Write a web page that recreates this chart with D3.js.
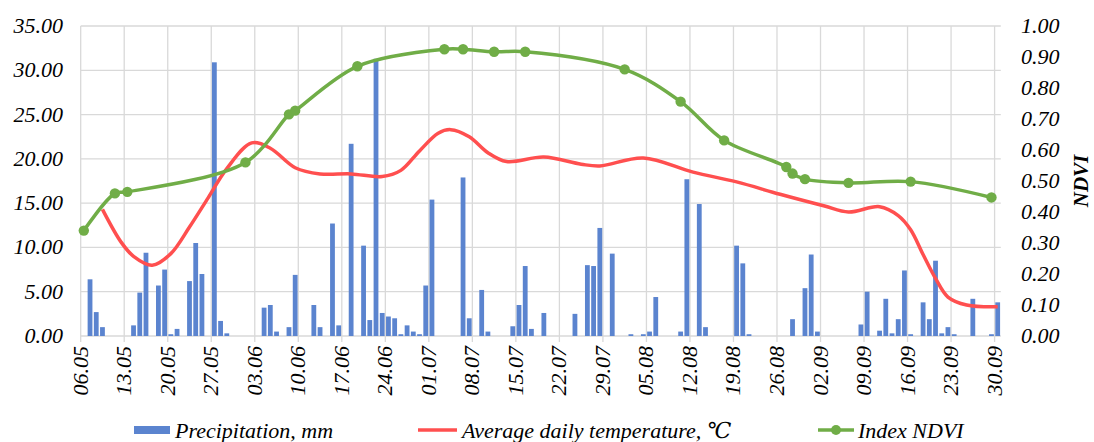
<!DOCTYPE html>
<html>
<head>
<meta charset="utf-8">
<script src="https://cdn.jsdelivr.net/npm/d3@7"></script>
<style>
  body { margin: 0; background: #fff; }
  text { font-family: "Liberation Serif", "DejaVu Serif", serif; font-style: italic; fill: #000; }
</style>
</head>
<body>
<div id="chart"></div>
<script>
var svgWidth = 1094;
var svgHeight = 442;

// x axis ticks (every 7 days)
var tickLabels = ["06.05","13.05","20.05","27.05","03.06","10.06","17.06","24.06","01.07","08.07","15.07",
  "22.07","29.07","05.08","12.08","19.08","26.08","02.09","09.09","16.09","23.09","30.09"];

// precipitation, mm
var precipDates = ["07.05","08.05","09.05","14.05","15.05","16.05","18.05","19.05","20.05","21.05","23.05","24.05",
  "25.05","27.05","28.05","29.05","04.06","05.06","06.06","08.06","09.06","12.06","13.06","15.06","16.06","18.06",
  "20.06","21.06","22.06","23.06","24.06","25.06","26.06","27.06","28.06","29.06","30.06","01.07","06.07","07.07",
  "09.07","10.07","14.07","15.07","16.07","17.07","19.07","24.07","26.07","27.07","28.07","30.07","02.08","04.08",
  "05.08","06.08","10.08","11.08","13.08","14.08","19.08","20.08","21.08","28.08","30.08","31.08","01.09","08.09",
  "09.09","11.09","12.09","13.09","14.09","15.09","16.09","18.09","19.09","20.09","21.09","22.09","23.09","26.09",
  "29.09","30.09"];
var precipValues = [6.4,2.7,1.0,1.2,4.9,9.4,5.7,7.5,0.2,0.8,6.2,10.5,
  7.0,30.9,1.7,0.3,3.2,3.5,0.5,1.0,6.9,3.5,1.0,12.7,1.2,21.7,
  10.2,1.8,31.3,2.6,2.2,2.0,0.2,1.2,0.5,0.2,5.7,15.4,17.9,2.0,
  5.2,0.5,1.1,3.5,7.9,0.8,2.6,2.5,8.0,7.9,12.2,9.3,0.2,0.2,
  0.5,4.4,0.5,17.7,14.9,1.0,10.2,8.2,0.2,1.9,5.4,9.2,0.5,1.3,
  5.0,0.6,4.2,0.3,1.9,7.4,0.2,3.8,1.9,8.5,0.3,1.0,0.2,4.2,
  0.2,3.8];

// average daily temperature, °C
var tempDates = ["09.05","12.05","14.05","17.05","20.05","23.05","26.05","29.05","02.06","05.06","09.06","13.06",
  "18.06","23.06","26.06","29.06","02.07","04.07","07.07","10.07","13.07","19.07","25.07","28.07","04.08","12.08",
  "19.08","26.08","02.09","06.09","11.09","14.09","16.09","18.09","20.09","22.09","25.09","30.09"];
var tempValues = [14.3,10.6,9.0,8.0,9.3,12.3,15.6,18.9,21.8,21.2,19.0,18.3,
  18.3,18.0,18.7,20.9,22.9,23.3,22.5,20.7,19.7,20.2,19.4,19.2,20.1,18.5,
  17.4,16.0,14.7,14.0,14.6,13.6,12.0,9.2,6.5,4.4,3.5,3.3];

// NDVI index
var ndviDates = ["06.05","11.05","13.05","01.06","08.06","09.06","19.06","03.07","06.07","11.07","16.07","01.08",
  "10.08","17.08","27.08","28.08","30.08","06.09","16.09","29.09"];
var ndviValues = [0.34,0.46,0.465,0.56,0.715,0.727,0.87,0.925,0.925,0.917,0.917,0.86,
  0.756,0.631,0.545,0.524,0.506,0.494,0.498,0.447];

var leftTicks = [0,5,10,15,20,25,30,35];
var rightTicks = [0,0.1,0.2,0.3,0.4,0.5,0.6,0.7,0.8,0.9,1.0];

// all days on the category axis
var allDates = [];
for (var t = new Date(2020, 4, 6); t <= new Date(2020, 8, 30); t.setDate(t.getDate() + 1)) {
  allDates.push(d3.timeFormat("%d.%m")(t));
}

var plotLeft = 80.7, plotRight = 1000.8, plotTop = 26, plotBottom = 336;

var svg = d3.select("#chart").append("svg")
  .attr("width", svgWidth)
  .attr("height", svgHeight);

var x = d3.scaleBand().domain(allDates).range([plotLeft, plotRight]);
var bw = x.bandwidth();
var cx = function(d) { return x(d) + bw / 2; };

var yL = d3.scaleLinear().domain([0, 35]).range([plotBottom, plotTop]);
var yR = d3.scaleLinear().domain([0, 1]).range([plotBottom, plotTop]);

// gridlines
svg.append("g").selectAll("line").data(leftTicks).enter().append("line")
  .attr("x1", plotLeft).attr("x2", plotRight)
  .attr("y1", d => yL(d)).attr("y2", d => yL(d))
  .attr("stroke", "#d9d9d9").attr("stroke-width", 1.3);

svg.append("g").selectAll("line").data(tickLabels).enter().append("line")
  .attr("x1", d => x(d)).attr("x2", d => x(d))
  .attr("y1", plotTop).attr("y2", plotBottom + 6)
  .attr("stroke", "#d9d9d9").attr("stroke-width", 1.3);

// left axis labels
svg.append("g").selectAll("text").data(leftTicks).enter().append("text")
  .attr("x", 63).attr("y", d => yL(d) + 7)
  .attr("text-anchor", "end")
  .style("font-size", "22px")
  .text(d => d.toFixed(2));

// right axis labels
svg.append("g").selectAll("text").data(rightTicks).enter().append("text")
  .attr("x", 1021).attr("y", d => yR(d) + 7)
  .style("font-size", "22px")
  .text(d => d.toFixed(2));

svg.append("text")
  .attr("transform", "translate(1088," + ((plotTop + plotBottom) / 2) + ") rotate(-90)")
  .attr("text-anchor", "middle")
  .style("font-size", "21px").style("font-weight", "bold")
  .text("NDVI");

// x labels
svg.append("g").selectAll("text").data(tickLabels).enter().append("text")
  .attr("transform", d => "translate(" + (x(d) + 7) + ",346) rotate(-90)")
  .attr("text-anchor", "end")
  .style("font-size", "22px")
  .text(d => d);

// precipitation bars
var pData = precipDates.map((d, i) => ({ date: d, v: precipValues[i] }));
svg.append("g").selectAll("rect").data(pData).enter().append("rect")
  .attr("x", d => cx(d.date) - 2.4)
  .attr("width", 4.8)
  .attr("y", d => yL(d.v))
  .attr("height", d => plotBottom - yL(d.v))
  .attr("fill", "#5b84cf");

// temperature line
var tData = tempDates.map((d, i) => ({ date: d, v: tempValues[i] }));
svg.append("path").datum(tData)
  .attr("fill", "none").attr("stroke", "#ff4f4f").attr("stroke-width", 3.5)
  .attr("d", d3.line().x(d => cx(d.date)).y(d => yL(d.v)).curve(d3.curveCatmullRom.alpha(0.5)));

// NDVI line
var nData = ndviDates.map((d, i) => ({ date: d, v: ndviValues[i] }));
svg.append("path").datum(nData)
  .attr("fill", "none").attr("stroke", "#70ad47").attr("stroke-width", 3.5)
  .attr("d", d3.line().x(d => cx(d.date)).y(d => yR(d.v)).curve(d3.curveCatmullRom.alpha(0.5)));

svg.append("g").selectAll("circle").data(nData).enter().append("circle")
  .attr("cx", d => cx(d.date)).attr("cy", d => yR(d.v)).attr("r", 5.2)
  .attr("fill", "#70ad47");

// legend
var lg = svg.append("g");
lg.append("rect").attr("x", 134).attr("y", 426).attr("width", 36).attr("height", 8).attr("fill", "#5b84cf");
lg.append("text").attr("x", 175).attr("y", 438).style("font-size", "22px").text("Precipitation, mm");
lg.append("line").attr("x1", 418).attr("x2", 457).attr("y1", 430).attr("y2", 430)
  .attr("stroke", "#ff4f4f").attr("stroke-width", 3.5);
lg.append("text").attr("x", 462).attr("y", 438).style("font-size", "22px").text("Average daily temperature, \u2103");
lg.append("line").attr("x1", 818).attr("x2", 854).attr("y1", 430).attr("y2", 430)
  .attr("stroke", "#70ad47").attr("stroke-width", 3.5);
lg.append("circle").attr("cx", 836).attr("cy", 430).attr("r", 5).attr("fill", "#70ad47");
lg.append("text").attr("x", 858).attr("y", 438).style("font-size", "22px").text("Index NDVI");
</script>
</body>
</html>
